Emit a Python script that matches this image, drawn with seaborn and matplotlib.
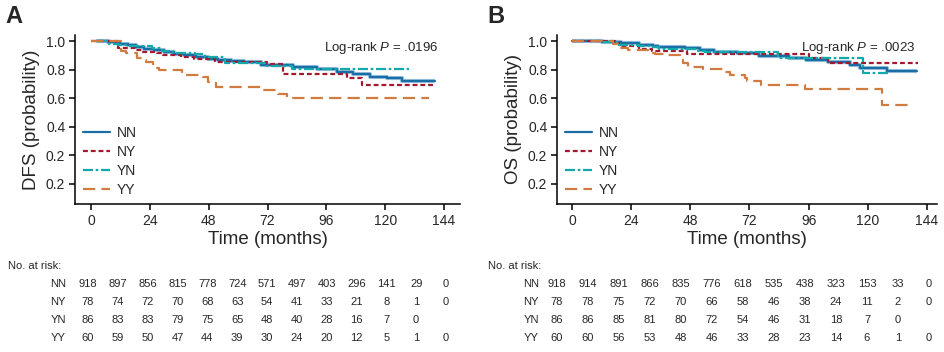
import matplotlib

matplotlib.use("Agg")
import matplotlib.pyplot as plt
import seaborn as sns
import pandas as pd

# --- Datos ---
GROUPS = ["NN", "NY", "YN", "YY"]
COLORS = {"NN": "#1a6ea6", "NY": "#a3192f", "YN": "#13a8ab", "YY": "#d27b40"}
DASHES = {"NN": "", "NY": (2.2, 1.3), "YN": (4.5, 1.2, 1.2, 1.2), "YY": (5.5, 2.8)}

# Panel A: DFS
dfs_nn_t = [2, 7, 11.8, 15, 18.4, 21.8, 25.9, 29.9, 34, 38.1, 42.9, 47.6, 51.7, 57.1, 62.6,
            69.4, 82.5, 92, 100.2, 107, 113.8, 120.6, 126.7, 140.4]
dfs_nn_s = [1.0, 0.99, 0.979, 0.97, 0.958, 0.946, 0.935, 0.923, 0.911, 0.9, 0.888, 0.876, 0.869,
            0.86, 0.853, 0.835, 0.816, 0.802, 0.785, 0.767, 0.75, 0.739, 0.722, 0.722]
dfs_ny_t = [0, 10.2, 10.9, 13.9, 18, 20.7, 26.8, 29.5, 36.7, 42.1, 50.6, 56, 71.7, 78.4,
            104.3, 110.4, 140.4]
dfs_ny_s = [1.0, 0.972, 0.953, 0.949, 0.937, 0.925, 0.914, 0.9, 0.886, 0.874, 0.855, 0.85,
            0.837, 0.769, 0.743, 0.695, 0.695]
dfs_yn_t = [3, 7.3, 11, 15, 24.7, 28.8, 33.6, 42.4, 46.5, 54.7, 71, 81.9, 129.5]
dfs_yn_s = [1.0, 0.979, 0.972, 0.967, 0.949, 0.93, 0.918, 0.907, 0.886, 0.844, 0.827, 0.802, 0.802]
dfs_yy_t = [0, 12.1, 14.1, 18.9, 21.1, 22.3, 25.2, 26.1, 27.9, 37, 45.7, 47.6, 50.3, 50.9,
            69.6, 76.4, 80.1, 137.9]
dfs_yy_s = [1.0, 0.932, 0.918, 0.883, 0.867, 0.853, 0.834, 0.813, 0.797, 0.764, 0.75, 0.715,
            0.704, 0.68, 0.66, 0.627, 0.604, 0.604]

# Panel B: OS
os_nn_t = [0, 12, 20, 27, 33, 35, 46, 52, 57.5, 67, 76, 88, 95, 103.9, 112.8, 116.8, 127.7, 139.8]
os_nn_s = [1.0, 0.995, 0.985, 0.972, 0.963, 0.956, 0.951, 0.94, 0.923, 0.914, 0.895, 0.88,
           0.867, 0.855, 0.832, 0.81, 0.792, 0.792]
os_ny_t = [0, 17.5, 19, 27, 32.5, 46.5, 96, 104, 140.4]
os_ny_s = [1.0, 0.984, 0.962, 0.944, 0.932, 0.907, 0.879, 0.848, 0.848]
os_yn_t = [12.4, 19, 27, 31.8, 35.2, 51.3, 54, 83.7, 117.9, 128.3]
os_yn_s = [0.993, 0.972, 0.965, 0.956, 0.946, 0.93, 0.923, 0.881, 0.774, 0.774]
os_yy_t = [0, 16.8, 18.8, 22.8, 31, 33.7, 39.1, 43.8, 45.2, 47.2, 53.3, 61.4, 64.1, 70.2,
           70.9, 76.5, 94.5, 125.9, 137.8]
os_yy_s = [1.0, 0.979, 0.953, 0.937, 0.918, 0.907, 0.9, 0.867, 0.844, 0.82, 0.804, 0.781,
           0.762, 0.739, 0.722, 0.692, 0.664, 0.552, 0.552]

# Números en riesgo
risk_dfs = {
    "NN": [918, 897, 856, 815, 778, 724, 571, 497, 403, 296, 141, 29, 0],
    "NY": [78, 74, 72, 70, 68, 63, 54, 41, 33, 21, 8, 1, 0],
    "YN": [86, 83, 83, 79, 75, 65, 48, 40, 28, 16, 7, 0],
    "YY": [60, 59, 50, 47, 44, 39, 30, 24, 20, 12, 5, 1, 0],
}
risk_os = {
    "NN": [918, 914, 891, 866, 835, 776, 618, 535, 438, 323, 153, 33, 0],
    "NY": [78, 78, 75, 72, 70, 66, 58, 46, 38, 24, 11, 2, 0],
    "YN": [86, 86, 85, 81, 80, 72, 54, 46, 31, 18, 7, 0],
    "YY": [60, 60, 56, 53, 48, 46, 33, 28, 23, 14, 6, 1, 0],
}

X_TICKS = [0, 24, 48, 72, 96, 120, 144]
Y_TICKS = [1.0, 0.8, 0.6, 0.4, 0.2, 0.0]
Y_TICKLABELS = ["1.0", "0.8", "0.6", "0.4", "0.2", "0.2"]

sns.set_style("ticks")
plt.rcParams["font.family"] = ["Liberation Sans", "DejaVu Sans"]
plt.rcParams["mathtext.fontset"] = "custom"
plt.rcParams["mathtext.it"] = "Liberation Sans:italic"
plt.rcParams["mathtext.rm"] = "Liberation Sans"


def build_frame(curves):
    rows = []
    for g, (t, s) in curves.items():
        for ti, si in zip(t, s):
            rows.append({"time": ti, "surv": si, "group": g})
    return pd.DataFrame(rows)


def draw_panel(fig, rect, curves, xlim, ylabel, pval, letter, letter_x):
    ax = fig.add_axes(rect)
    df = build_frame(curves)
    # halo claro debajo de NN
    nn = df[df["group"] == "NN"]
    ax.plot(nn["time"], nn["surv"], drawstyle="steps-post", color="#9cc3dd", lw=3.0,
            solid_capstyle="butt", zorder=1)
    sns.lineplot(data=df, x="time", y="surv", hue="group", style="group",
                 hue_order=GROUPS, style_order=GROUPS, palette=COLORS, dashes=DASHES,
                 drawstyle="steps-post", estimator=None, sort=False, lw=1.6, ax=ax,
                 zorder=2)
    ax.set_xlim(*xlim)
    ax.set_ylim(-0.14, 1.042)
    ax.set_xticks(X_TICKS)
    ax.tick_params(axis="both", labelsize=10, length=4, width=1.1, color="black", pad=3)
    for sp in ["top", "right"]:
        ax.spines[sp].set_visible(False)
    for sp in ["left", "bottom"]:
        ax.spines[sp].set_linewidth(1.1)
        ax.spines[sp].set_color("black")
    ax.set_xlabel("Time (months)", fontsize=13.5, labelpad=2)
    ax.set_ylabel(ylabel, fontsize=13.5, labelpad=4)
    ax.legend(loc="upper left", bbox_to_anchor=(0.022, 0.46), frameon=False, fontsize=10,
              handlelength=1.9, handletextpad=0.5, labelspacing=0.35, borderpad=0,
              borderaxespad=0, title=None)
    ax.set_yticks(Y_TICKS, labels=Y_TICKLABELS)
    ax.text(0.943, 0.925, r"Log-rank $\mathit{P}$ = " + pval, transform=ax.transAxes,
            ha="right", va="center", fontsize=9.5)
    fig.text(letter_x, 0.985, letter, fontsize=17, fontweight="bold", va="top", ha="left")
    return ax


def draw_risk(fig, risk, label_x, col0, col12, header_x):
    W, H = 944, 352
    fig.text(header_x / W, 1 - 266 / H, "No. at risk:", fontsize=8, va="center", ha="left")
    ys = [284, 302, 320, 338]
    step = (col12 - col0) / 12
    for g, y in zip(GROUPS, ys):
        fig.text(label_x / W, 1 - y / H, g, fontsize=8, va="center", ha="right")
        for i, n in enumerate(risk[g]):
            fig.text((col0 + i * step) / W, 1 - y / H, str(n), fontsize=8, va="center",
                     ha="center")


fig = plt.figure(figsize=(9.44, 3.52), dpi=100)

curves_a = {"NN": (dfs_nn_t, dfs_nn_s), "NY": (dfs_ny_t, dfs_ny_s),
            "YN": (dfs_yn_t, dfs_yn_s), "YY": (dfs_yy_t, dfs_yy_s)}
curves_b = {"NN": (os_nn_t, os_nn_s), "NY": (os_ny_t, os_ny_s),
            "YN": (os_yn_t, os_yn_s), "YY": (os_yy_t, os_yy_s)}

draw_panel(fig, [75 / 944, 1 - 204 / 352, 385 / 944, 169 / 352], curves_a, (-6.5, 150.5),
           "DFS (probability)", ".0196", "A", 5 / 944)
draw_panel(fig, [557 / 944, 1 - 204 / 352, 380 / 944, 169 / 352], curves_b, (-6.1, 148.1),
           "OS (probability)", ".0023", "B", 487 / 944)

draw_risk(fig, risk_dfs, 66, 88, 446, 8)
draw_risk(fig, risk_os, 539, 557, 929, 488)

fig.savefig("out.png", dpi=100)
